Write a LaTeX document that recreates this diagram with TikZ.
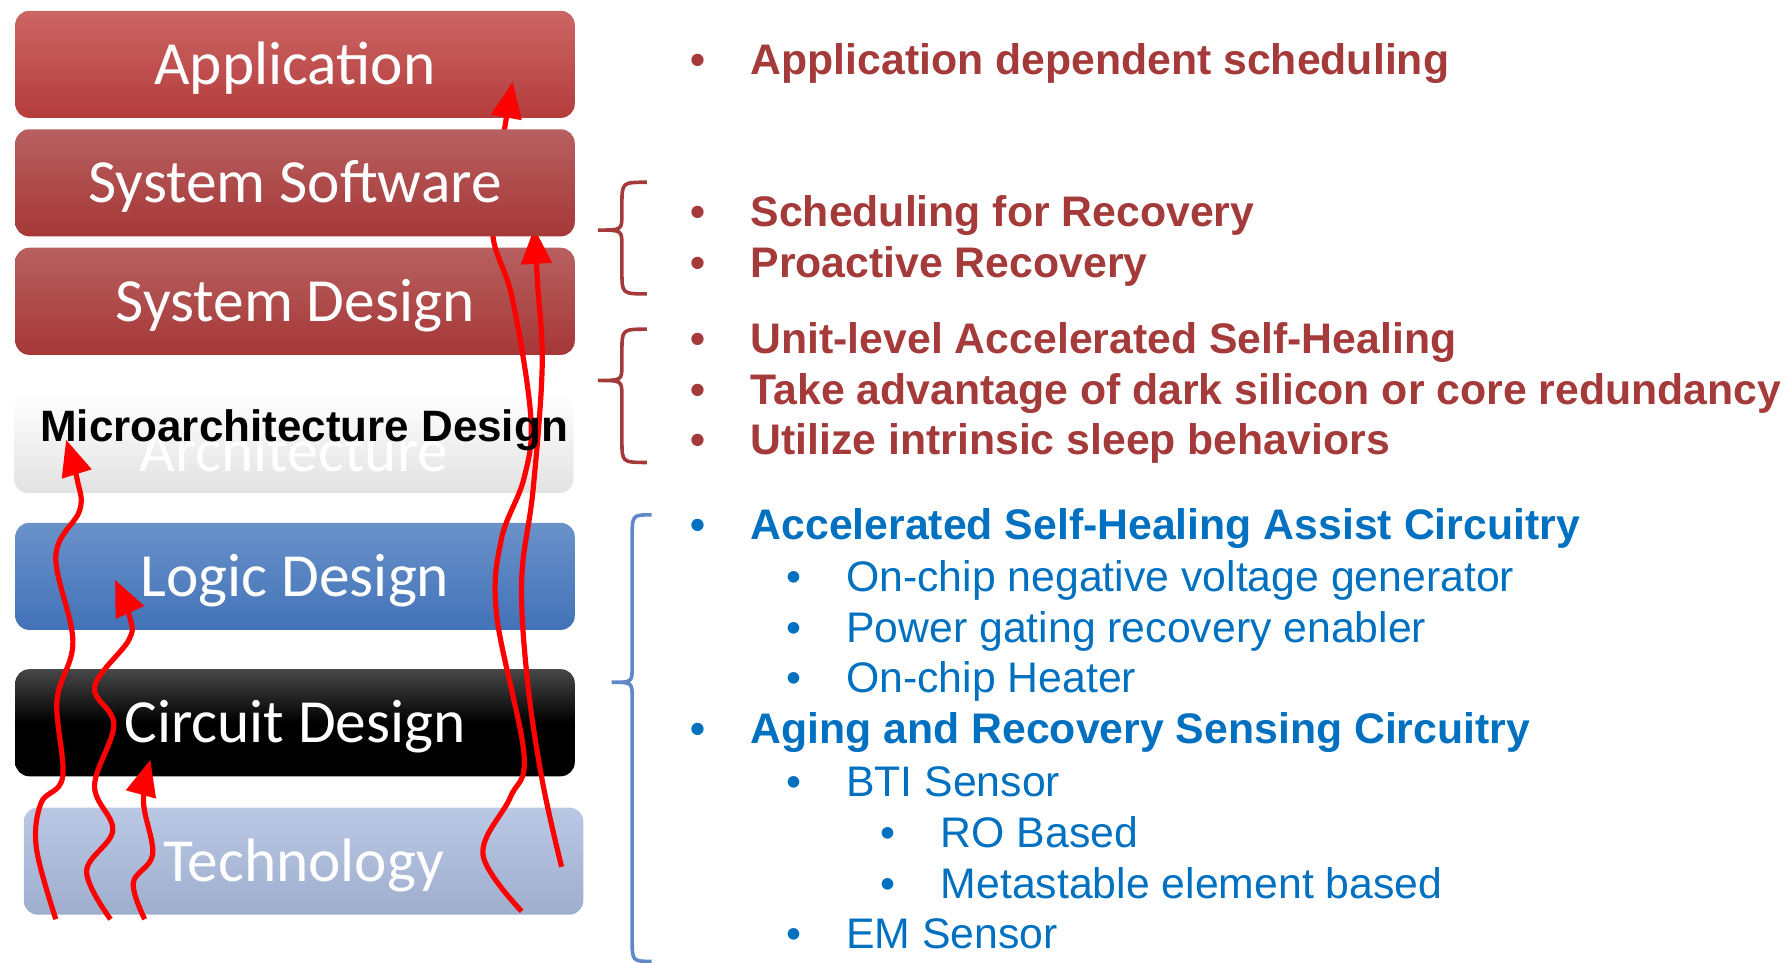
\documentclass[tikz,border=0pt]{standalone}
\usepackage{fontspec}
\setmainfont{Liberation Sans}
\newfontfamily\layerfont{Carlito}
\usetikzlibrary{arrows.meta, positioning}
\definecolor{apptop}{RGB}{203,102,100}
\definecolor{appbot}{RGB}{180,60,60}
\definecolor{redtop}{RGB}{184,96,96}
\definecolor{redbot}{RGB}{166,55,55}
\definecolor{bluetop}{RGB}{106,146,201}
\definecolor{bluebot}{RGB}{66,114,184}
\definecolor{techtop}{RGB}{186,200,228}
\definecolor{techbot}{RGB}{158,174,205}
\definecolor{uarchbot}{RGB}{226,226,226}
\definecolor{itemred}{RGB}{164,58,58}
\definecolor{itemblue}{RGB}{0,112,192}
\definecolor{braceblue}{RGB}{96,136,200}
\definecolor{wavered}{RGB}{255,0,0}
\newcommand{\bul}{\makebox[30pt][l]{\textbullet}}
\tikzset{
  layer/.style={rectangle, rounded corners=7pt, minimum width=280pt, minimum height=53.6pt, inner sep=0pt, text height=21pt, text depth=1pt, text=white, font=\layerfont\fontsize{30.7}{36}\selectfont},
  applayer/.style={layer, top color=apptop, bottom color=appbot},
  redlayer/.style={layer, top color=redtop, bottom color=redbot},
  bluelayer/.style={layer, top color=bluetop, bottom color=bluebot},
  blacklayer/.style={layer, top color=black!72, bottom color=black, middle color=black},
  techlayer/.style={layer, top color=techtop, bottom color=techbot},
  uarchlayer/.style={layer, top color=white, bottom color=uarchbot, minimum height=50pt},
  listitem/.style={anchor=base west, inner sep=0pt, font=\fontsize{21.4}{25}\selectfont},
  reditem/.style={listitem, text=itemred, font=\bfseries\fontsize{21.4}{25}\selectfont},
  bluehead/.style={listitem, text=itemblue, font=\bfseries\fontsize{21.4}{25}\selectfont},
  blueitem/.style={listitem, text=itemblue},
  wave/.style={wavered, line width=2.6pt, -{Triangle[length=18pt, width=15pt]}},
  redbrace/.style={itemred, line width=1.8pt},
  bluebrace/.style={braceblue, line width=1.8pt}
}
\begin{document}
\begin{tikzpicture}[x=0.57pt, y=-0.57pt]
  \useasboundingbox (0,0) rectangle (1568,845);

  \node[applayer] (app) at (259,56.5) {Application};
  \node[redlayer] (sysdes) at (259,264.5) {System Design};
  \node[uarchlayer] (uarch) at (258,389) {\raisebox{-4pt}{Architecture}};
  \node[bluelayer] (logic) at (259,506) {Logic Design};
  \node[blacklayer] (circ) at (259,634.5) {Circuit Design};
  \node[techlayer] (tech) at (266.5,756) {Technology};

  \coordinate (a0) at (49,807);
  \coordinate (a1) at (58,386);
  \coordinate (b0) at (97,807);
  \coordinate (b1) at (101,509);
  \coordinate (c0) at (127,807);
  \coordinate (c1) at (132,667);
  \coordinate (d0) at (458,800);
  \coordinate (d1) at (450,72);
  \coordinate (e0) at (493,761);
  \coordinate (e1) at (469,200);

  \draw[wave] plot[smooth, tension=0.6] coordinates {(a0) (32,745) (36,705) (55,682) (50,615) (64,563) (49,488) (70,448) (68,422) (a1)};
  \draw[wave] plot[smooth, tension=0.6] coordinates {(b0) (76,765) (99,729) (83,690) (100,636) (83,603) (113,562) (114,542) (b1)};
  \draw[wave] plot[smooth, tension=0.6] coordinates {(c0) (117,775) (134,750) (126,704) (c1)};
  \draw[wave] plot[smooth, tension=0.6] coordinates {(d0) (424,750) (448,700) (460,662) (436,540) (440,474) (460,420) (466,366) (450,263) (433,209) (436,160) (443,113) (d1)};
  \draw[wave] plot[smooth, tension=0.6] coordinates {(e0) (476,685) (463,597) (458,509) (468,430) (476,322) (472,250) (e1)};

  \node[redlayer] (syssw) at (259,160.5) {System Software};
  \node[anchor=base, inner sep=0pt, font=\bfseries\fontsize{22}{26}\selectfont] (uarchlbl) at (267,388) {Microarchitecture Design};

  \node[reditem] (sched0) at (606,65) {\bul Application dependent scheduling};
  \node[reditem] (sched1) at (606,199) {\bul Scheduling for Recovery};
  \node[reditem] (proact) at (606,244) {\bul Proactive Recovery};
  \node[reditem] (unit) at (606,310) {\bul Unit-level Accelerated Self-Healing};
  \node[reditem] (dark) at (606,355) {\bul Take advantage of dark silicon or core redundancy};
  \node[reditem] (sleep) at (606,399) {\bul Utilize intrinsic sleep behaviors};

  \node[bluehead] (ash) at (606,474) {\bul Accelerated Self-Healing Assist Circuitry};
  \node[blueitem] (negv) at (690,519) {\bul On-chip negative voltage generator};
  \node[blueitem] (pgate) at (690,564) {\bul Power gating recovery enabler};
  \node[blueitem] (heater) at (690,608) {\bul On-chip Heater};
  \node[bluehead] (sense) at (606,653) {\bul Aging and Recovery Sensing Circuitry};
  \node[blueitem] (bti) at (690,699) {\bul BTI Sensor};
  \node[blueitem] (ro) at (773,744) {\bul RO Based};
  \node[blueitem] (meta) at (773,789) {\bul Metastable element based};
  \node[blueitem] (em) at (690,833) {\bul EM Sensor};

  \draw[redbrace] (568,160) .. controls (546,160) .. (546,180) -- (546,188) .. controls (546,202) .. (525,202)
    .. controls (546,202) .. (546,216) -- (546,238) .. controls (546,258) .. (568,258);
  \draw[redbrace] (568,289) .. controls (546,289) .. (546,309) -- (546,320) .. controls (546,334) .. (525,334)
    .. controls (546,334) .. (546,348) -- (546,386) .. controls (546,406) .. (568,406);
  \draw[bluebrace] (572,452) .. controls (555,452) .. (555,472) -- (555,585) .. controls (555,599) .. (537,599)
    .. controls (555,599) .. (555,613) -- (555,824) .. controls (555,844) .. (572,844);
\end{tikzpicture}
\end{document}
